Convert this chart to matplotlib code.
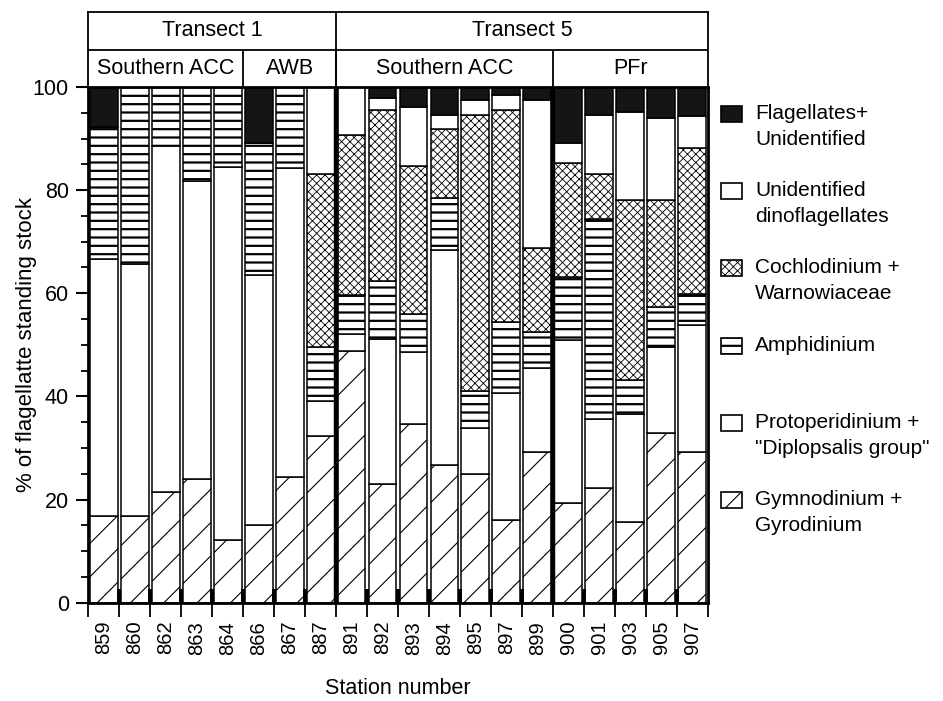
import numpy as np
import matplotlib
matplotlib.use('Agg')
import matplotlib.pyplot as plt
from matplotlib.patches import Rectangle

plt.rcParams['font.family'] = ['Liberation Sans', 'DejaVu Sans']
plt.rcParams['hatch.linewidth'] = 1.0

# Station numbers along the x axis
stations = ['859', '860', '862', '863', '864', '866', '867', '887',
            '891', '892', '893', '894', '895', '897', '899',
            '900', '901', '903', '905', '907']

# % of flagellate standing stock, stacked bottom -> top
gymno = [16.8, 16.8, 21.5, 24.0, 12.2, 15.0, 24.3, 32.3,
         48.9, 23.0, 34.7, 26.7, 24.9, 16.0, 29.2,
         19.4, 22.2, 15.7, 33.0, 29.2]
proto = [49.8, 48.9, 67.0, 57.8, 72.2, 48.6, 59.9, 6.9,
         3.3, 28.2, 13.9, 41.6, 8.9, 24.6, 16.3,
         31.5, 13.4, 20.8, 16.6, 24.6]
amphi = [25.7, 34.3, 11.5, 18.2, 15.6, 25.6, 15.8, 10.4,
         7.5, 11.2, 7.3, 10.1, 7.2, 13.8, 7.0,
         12.2, 38.8, 6.6, 7.8, 6.0]
cochlo = [0, 0, 0, 0, 0, 0, 0, 33.5,
          30.9, 33.2, 28.7, 13.4, 53.6, 41.1, 16.3,
          22.2, 8.8, 34.9, 20.6, 28.4]
dino = [0, 0, 0, 0, 0, 0, 0, 16.9,
        9.4, 2.3, 11.6, 2.7, 2.9, 3.0, 28.6,
        3.9, 11.3, 17.1, 16.0, 6.2]
flag = [7.7, 0, 0, 0, 0, 10.8, 0, 0,
        0, 2.1, 3.8, 5.5, 2.5, 1.5, 2.6,
        10.8, 5.5, 4.9, 6.0, 5.6]

# header rows
transects = ['Transect 1', 'Transect 5']
transect_sizes = [8, 12]
regions = ['Southern ACC', 'AWB', 'Southern ACC', 'PFr']
region_sizes = [5, 3, 7, 5]

# legend labels, top -> bottom
legend_labels = ['Flagellates+\nUnidentified',
                 'Unidentified\ndinoflagellates',
                 'Cochlodinium +\nWarnowiaceae',
                 'Amphidinium',
                 'Protoperidinium +\n"Diplopsalis group"',
                 'Gymnodinium +\nGyrodinium']

# (values, face colour, hatch, hatch linewidth) bottom -> top
series = [
    (gymno, 'white', '/', 0.8),
    (proto, 'white', '', None),
    (amphi, 'white', '--', 1.6),
    (cochlo, 'white', 'xxxx', 0.6),
    (dino, 'white', '', None),
    (flag, '#151515', '', None),
]

fig = plt.figure(figsize=(9.43, 7.01), dpi=100)
ax = fig.add_axes([88.3 / 943, 98.3 / 701, 619.4 / 943, 515.7 / 701])

x = np.arange(len(stations))
bottom = np.zeros(len(x))
for vals, face, hatch, hlw in series:
    vals = np.array(vals, dtype=float)
    bars = ax.bar(x, vals, 0.9, bottom=bottom, color=face, edgecolor='black',
                  linewidth=1.1, hatch=hatch or None, zorder=2)
    if hlw is not None:
        for b in bars:
            if hasattr(b, 'set_hatch_linewidth'):
                b.set_hatch_linewidth(hlw)
    bottom += vals

# little black blocks at the foot of each gap
ax.bar(x[:-1] + 0.5, 2.6, width=0.12, color='black', linewidth=0, zorder=3)

# thick separators between transects / fronts
for pos in [np.cumsum(region_sizes)[1] - 0.5, np.cumsum(region_sizes)[2] - 0.5]:
    ax.axvline(pos, color='black', lw=3.2, zorder=4)

ax.set_xlim(-0.5, len(x) - 0.5)
ax.set_ylim(0, 100)
for s in ax.spines.values():
    s.set_linewidth(2)

ax.set_yticks(range(0, 101, 20))
ax.set_yticks(range(0, 101, 5), minor=True)
ax.tick_params(axis='y', which='major', length=9, width=1.5, labelsize=15.5, pad=5)
ax.tick_params(axis='y', which='minor', length=5, width=1.3)

ax.set_xticks(x, stations, rotation=90)
ax.set_xticks(np.arange(len(x) + 1) - 0.5, minor=True)
ax.tick_params(axis='x', which='major', length=0, labelsize=14.5, pad=13)
ax.tick_params(axis='x', which='minor', length=10, width=1.3)

ax.set_ylabel('% of flagellatte standing stock', fontsize=16, labelpad=-3)
ax.set_xlabel('Station number', fontsize=15.5, labelpad=17)

# header table above the plot
hx = fig.add_axes([88.3 / 943, 614 / 701, 619.4 / 943, 75 / 701])
hx.set_xlim(-0.5, len(x) - 0.5)
hx.set_ylim(0, 2)
hx.set_xticks([])
hx.set_yticks([])
for s in hx.spines.values():
    s.set_linewidth(1.3)
hx.axhline(1, color='black', lw=1.3)

edges = np.concatenate([[0], np.cumsum(transect_sizes)]) - 0.5
for i, name in enumerate(transects):
    hx.text((edges[i] + edges[i + 1]) / 2, 1.5, name, ha='center', va='center', fontsize=15.5)
    if i > 0:
        hx.axvline(edges[i], color='black', lw=1.3)

edges = np.concatenate([[0], np.cumsum(region_sizes)]) - 0.5
for i, name in enumerate(regions):
    hx.text((edges[i] + edges[i + 1]) / 2, 0.5, name, ha='center', va='center', fontsize=15.5)
    if i > 0:
        hx.vlines(edges[i], 0, 1, color='black', lw=1.3)

# legend drawn by hand so the swatch sits beside the first line
lx = fig.add_axes([0, 0, 1, 1])
lx.set_xlim(0, 943)
lx.set_ylim(701, 0)
lx.axis('off')
legend_styles = series[::-1]
for i, label in enumerate(legend_labels):
    base = 119 + 77.2 * i
    _, face, hatch, hlw = legend_styles[i]
    r = Rectangle((721, base - 13), 21, 16, facecolor=face, edgecolor='black',
                  lw=1.2, hatch=hatch or None)
    if hlw is not None and hasattr(r, 'set_hatch_linewidth'):
        r.set_hatch_linewidth(hlw)
    lx.add_patch(r)
    for j, line in enumerate(label.split('\n')):
        lx.text(755, base + 26 * j, line, va='baseline', ha='left', fontsize=15)

fig.savefig('out.png', dpi=100)
